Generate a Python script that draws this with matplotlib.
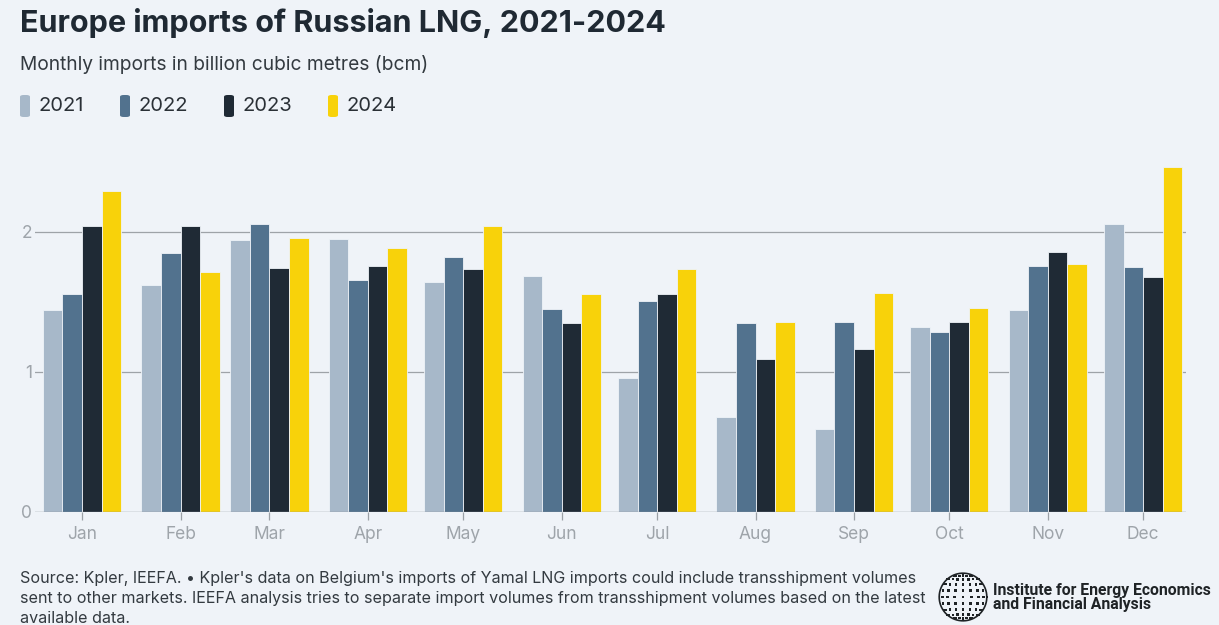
import numpy as np
import pandas as pd
import matplotlib
matplotlib.use("Agg")
import matplotlib.pyplot as plt
from matplotlib.patches import FancyBboxPatch

months = ["Jan", "Feb", "Mar", "Apr", "May", "Jun", "Jul", "Aug", "Sep", "Oct", "Nov", "Dec"]
years = ["2021", "2022", "2023", "2024"]

v2021 = [1.44, 1.62, 1.94, 1.95, 1.645, 1.685, 0.96, 0.68, 0.595, 1.32, 1.44, 2.06]
v2022 = [1.56, 1.85, 2.055, 1.655, 1.82, 1.45, 1.51, 1.35, 1.355, 1.285, 1.755, 1.75]
v2023 = [2.04, 2.04, 1.74, 1.755, 1.735, 1.35, 1.56, 1.095, 1.165, 1.355, 1.86, 1.68]
v2024 = [2.295, 1.715, 1.955, 1.885, 2.04, 1.555, 1.735, 1.36, 1.565, 1.46, 1.77, 2.465]

colors = ["#a7b8c9", "#52728e", "#1f2a35", "#f8d20a"]
bg = "#eff3f8"

plt.rcParams['font.family'] = ['Inter', 'DejaVu Sans']

fig = plt.figure(figsize=(12.19, 6.25), dpi=100, facecolor=bg)

# month positions follow the calendar (days since 1 Jan)
x = np.array(pd.date_range("2021-01-01", periods=12, freq="MS").dayofyear - 1, dtype=float)

ax = fig.add_axes([35/1219, 113/625, (1186-35)/1219, 364/625])
ax.set_facecolor(bg)
bw = 6.15
series = [v2021, v2022, v2023, v2024]
for i, vals in enumerate(series):
    ax.bar(x + (i - 1.5) * bw, vals, width=bw, color=colors[i],
           edgecolor=bg, linewidth=0.6, zorder=3)

ax.set_xlim(-14.8, 347.5)
ax.set_ylim(0, 2.6)
ax.set_yticks([0, 1, 2])
ax.set_yticklabels(["0", "1", "2"])
for yv in [1, 2]:
    ax.axhline(yv, color="#9ea3a8", lw=0.9, zorder=1)
ax.axhline(0, color="#8e9399", lw=1.0, zorder=4)
for s in ax.spines.values():
    s.set_visible(False)
ax.set_xticks(x)
ax.set_xticklabels(months)
ax.tick_params(axis="x", colors="#9aa0a6", labelcolor="#9ea4aa", labelsize=12.5,
               length=6, width=0.9, pad=4)
ax.tick_params(axis="y", length=0, labelcolor="#9ea4aa", labelsize=12.5, pad=2)

# titles
fig.text(20/1219, 1 - 23/625, "Europe imports of Russian LNG, 2021-2024",
         fontsize=22, fontweight="bold", color="#1f2933", va="center")
fig.text(20/1219, 1 - 64/625, "Monthly imports in billion cubic metres (bcm)",
         fontsize=13.8, color="#333a40", va="center")

# legend
leg_x = [20, 120, 224, 328]
for i, yr in enumerate(years):
    fig.patches.append(FancyBboxPatch((leg_x[i]/1219, 1 - 117/625), 10/1219, 22/625,
                                      boxstyle="round,pad=0,rounding_size=0.003",
                                      transform=fig.transFigure, facecolor=colors[i],
                                      edgecolor="none"))
    fig.text((leg_x[i] + 18)/1219, 1 - 106/625, yr, fontsize=14.5,
             color="#2a3036", va="center")

# footer
note = ("Source: Kpler, IEEFA. \u2022 Kpler's data on Belgium's imports of Yamal LNG imports could include transshipment volumes\n"
        "sent to other markets. IEEFA analysis tries to separate import volumes from transshipment volumes based on the latest\n"
        "available data.")
fig.text(20/1219, 1 - 571/625, note, fontsize=11.6, color="#333a40", va="top",
         linespacing=1.42)

# logo: dotted globe + name
lax = fig.add_axes([938/1219, 3/625, 50/1219, 50/625])
lax.set_xlim(-1.05, 1.05)
lax.set_ylim(-1.05, 1.05)
lax.set_aspect("equal")
lax.axis("off")
lat = np.linspace(-80, 80, 11)
lon = np.linspace(-80, 80, 9)
LA, LO = np.meshgrid(np.radians(lat), np.radians(lon))
gx = np.cos(LA) * np.sin(LO)
gy = np.sin(LA)
lax.scatter(gx.ravel(), gy.ravel(), s=(3.5 * np.cos(LA) * np.cos(LO)).ravel() + 1,
            c="#1f2326", marker="s", linewidths=0)
th = np.linspace(0, 2 * np.pi, 200)
lax.plot(np.cos(th), np.sin(th), color="#1f2326", lw=1.2)

logo_font = ['Liberation Sans Narrow', 'Roboto', 'DejaVu Sans']
fig.text(993/1219, 1 - 590/625, "Institute for Energy Economics", fontsize=11.3,
         fontweight="bold", color="#1f2326", va="center", family=logo_font)
fig.text(993/1219, 1 - 605/625, "and Financial Analysis", fontsize=11.3,
         fontweight="bold", color="#1f2326", va="center", family=logo_font)

fig.savefig("out.png", dpi=100, facecolor=bg)
